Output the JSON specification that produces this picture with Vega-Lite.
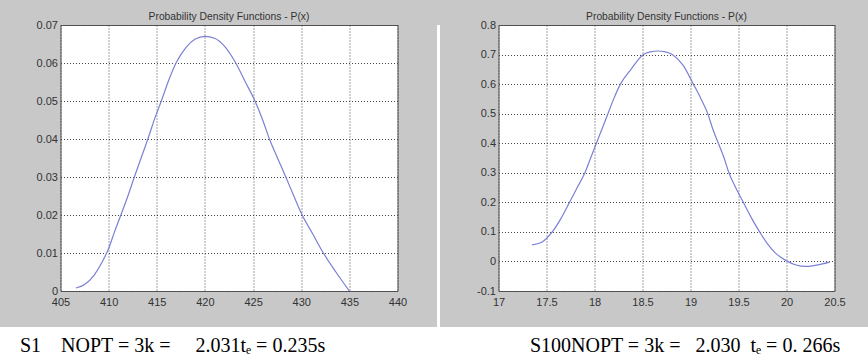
{
  "$schema": "https://vega.github.io/schema/vega-lite/v6.json",
  "background": "#c8c8c8",
  "padding": {"left": 0, "top": 11, "right": 0, "bottom": 0},
  "columns": 1,
  "spacing": {"row": 0, "column": 0},
  "datasets": {
    "left": [
      {"x": 406.6, "p": 0.0008}, {"x": 407.5, "p": 0.0017}, {"x": 408.5, "p": 0.0042},
      {"x": 409.3, "p": 0.0075}, {"x": 410.0, "p": 0.0112}, {"x": 410.6, "p": 0.0155},
      {"x": 411.3, "p": 0.0202}, {"x": 412.0, "p": 0.025}, {"x": 412.7, "p": 0.0302},
      {"x": 413.4, "p": 0.0352}, {"x": 414.1, "p": 0.0402}, {"x": 414.8, "p": 0.0455},
      {"x": 415.5, "p": 0.0502}, {"x": 416.2, "p": 0.0552}, {"x": 417.0, "p": 0.06},
      {"x": 418.0, "p": 0.0640}, {"x": 419.0, "p": 0.0663}, {"x": 420.0, "p": 0.0670},
      {"x": 421.0, "p": 0.0665}, {"x": 422.0, "p": 0.0645}, {"x": 423.2, "p": 0.06},
      {"x": 424.2, "p": 0.055}, {"x": 425.2, "p": 0.05}, {"x": 426.0, "p": 0.045},
      {"x": 426.7, "p": 0.04}, {"x": 427.5, "p": 0.0352}, {"x": 428.4, "p": 0.03},
      {"x": 429.2, "p": 0.0252}, {"x": 430.1, "p": 0.02}, {"x": 431.2, "p": 0.015},
      {"x": 432.3, "p": 0.01}, {"x": 433.6, "p": 0.005}, {"x": 435.0, "p": 0.0}
    ],
    "right": [
      {"x": 17.35, "p": 0.056}, {"x": 17.45, "p": 0.065}, {"x": 17.56, "p": 0.1},
      {"x": 17.65, "p": 0.145}, {"x": 17.74, "p": 0.2}, {"x": 17.82, "p": 0.25},
      {"x": 17.9, "p": 0.3}, {"x": 17.96, "p": 0.35}, {"x": 18.02, "p": 0.4},
      {"x": 18.08, "p": 0.45}, {"x": 18.14, "p": 0.5}, {"x": 18.2, "p": 0.55},
      {"x": 18.27, "p": 0.6}, {"x": 18.38, "p": 0.65}, {"x": 18.51, "p": 0.7},
      {"x": 18.58, "p": 0.709}, {"x": 18.66, "p": 0.712}, {"x": 18.74, "p": 0.709},
      {"x": 18.81, "p": 0.7}, {"x": 18.92, "p": 0.665}, {"x": 19.03, "p": 0.6},
      {"x": 19.11, "p": 0.55}, {"x": 19.18, "p": 0.5}, {"x": 19.23, "p": 0.45},
      {"x": 19.29, "p": 0.4}, {"x": 19.35, "p": 0.35}, {"x": 19.4, "p": 0.3},
      {"x": 19.47, "p": 0.25}, {"x": 19.55, "p": 0.2}, {"x": 19.63, "p": 0.15},
      {"x": 19.72, "p": 0.1}, {"x": 19.8, "p": 0.06}, {"x": 19.88, "p": 0.03},
      {"x": 20.0, "p": 0.002}, {"x": 20.1, "p": -0.012}, {"x": 20.2, "p": -0.017},
      {"x": 20.3, "p": -0.013}, {"x": 20.45, "p": -0.002}
    ],
    "captions": [
      {"panel": "a", "label": "S1\u00a0\u00a0\u00a0\u00a0NOPT = 3k =\u00a0\u00a0\u00a0\u00a0\u00a02.031t\u2091 = 0.235s"},
      {"panel": "b", "label": "S100NOPT = 3k =\u00a0\u00a0\u00a02.030\u00a0\u00a0t\u2091 = 0.\u00a0266s"}
    ]
  },
  "config": {
    "view": {"stroke": "#555555", "strokeWidth": 1, "fill": "white"},
    "title": {"font": "Liberation Sans", "fontSize": 10.3, "fontWeight": "normal", "color": "#333333", "offset": -3, "frame": "group"},
    "axis": {
      "domain": false,
      "ticks": false,
      "grid": true,
      "gridColor": "#444444",
      "gridDash": [1, 2],
      "gridOpacity": 1,
      "gridWidth": 1,
      "labelFont": "Liberation Sans",
      "labelFontSize": 11,
      "labelColor": "#333333",
      "labelPadding": 3,
      "labelFlush": false,
      "labelOverlap": false,
      "labelExpr": "'' + datum.value",
      "title": null
    },
    "axisX": {"labelPadding": 5}
  },
  "concat": [
    {
      "columns": 4,
      "spacing": {"column": 29.5, "row": 0},
      "concat": [
        {
          "width": 1,
          "height": 1,
          "view": {"fill": null, "stroke": null},
          "data": {"values": []},
          "mark": {"type": "point", "opacity": 0},
          "encoding": {}
        },
        {
          "width": 337,
          "height": 266,
          "title": "Probability Density Functions - P(x)",
          "data": {"name": "left"},
          "mark": {"type": "line", "color": "#7b80d4", "strokeWidth": 1.2, "interpolate": "monotone"},
          "encoding": {
            "x": {"field": "x", "type": "quantitative", "scale": {"domain": [405, 440], "nice": false, "zero": false},
                  "axis": {"values": [405, 410, 415, 420, 425, 430, 435, 440]}},
            "y": {"field": "p", "type": "quantitative", "scale": {"domain": [0, 0.07], "nice": false},
                  "axis": {"values": [0, 0.01, 0.02, 0.03, 0.04, 0.05, 0.06, 0.07], "minExtent": 29.5}}
          }
        },
        {
          "width": 3,
          "height": 302,
          "view": {"fill": "white", "stroke": null},
          "data": {"values": []},
          "mark": {"type": "point", "opacity": 0},
          "encoding": {}
        },
        {
          "width": 336,
          "height": 266,
          "title": "Probability Density Functions - P(x)",
          "data": {"name": "right"},
          "mark": {"type": "line", "color": "#7b80d4", "strokeWidth": 1.2, "interpolate": "monotone"},
          "encoding": {
            "x": {"field": "x", "type": "quantitative", "scale": {"domain": [17, 20.5], "nice": false, "zero": false},
                  "axis": {"values": [17, 17.5, 18, 18.5, 19, 19.5, 20, 20.5]}},
            "y": {"field": "p", "type": "quantitative", "scale": {"domain": [-0.1, 0.8], "nice": false},
                  "axis": {"values": [-0.1, 0, 0.1, 0.2, 0.3, 0.4, 0.5, 0.6, 0.7, 0.8], "minExtent": 28.5}}
          }
        }
      ]
    },
    {
      "width": 868,
      "height": 33,
      "view": {"fill": "white", "stroke": null},
      "data": {"name": "captions"},
      "mark": {"type": "text", "align": "left", "baseline": "middle", "dy": 2, "font": "Liberation Serif", "fontSize": 20, "color": "black"},
      "encoding": {
        "x": {"field": "panel", "type": "nominal", "bandPosition": 0,
              "scale": {"type": "band", "paddingInner": 0.376, "paddingOuter": 0.039}, "axis": null},
        "text": {"field": "label"}
      }
    }
  ]
}
